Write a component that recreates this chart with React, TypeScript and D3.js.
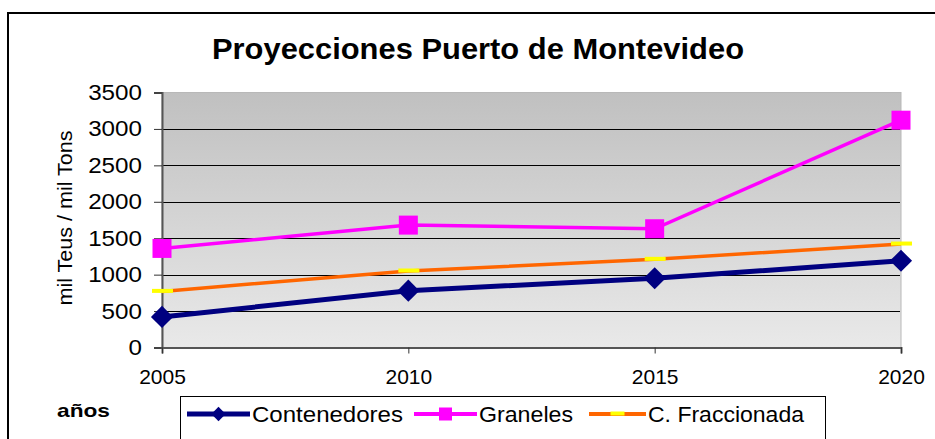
import * as d3 from 'd3';
import React, { useEffect, useRef } from 'react';

// Chart data
const years = ['2005', '2010', '2015', '2020'];
const contenedores = [420, 780, 950, 1190];
const graneles = [1360, 1680, 1630, 3120];
const fraccionada = [770, 1050, 1210, 1420];
const yTicks = [0, 500, 1000, 1500, 2000, 2500, 3000, 3500];
const seriesNames = ['Contenedores', 'Graneles', 'C. Fraccionada'];

const FONT = 'Liberation Sans, Arial, sans-serif';

// the original's lettering is a bit wider than Arial, so stretch it
const stretch = (sel: any, factor: number) => {
  sel.each(function (this: SVGTextElement) {
    const w = this.getComputedTextLength();
    d3.select(this).attr('textLength', w * factor).attr('lengthAdjust', 'spacingAndGlyphs');
  });
};

const App = () => {
  const svgRef = useRef<SVGSVGElement>(null);

  useEffect(() => {
    const width = 935;
    const height = 439;
    const plot = { left: 162, right: 901, top: 92.5, bottom: 347.5 };

    const svg = d3.select(svgRef.current);
    svg.selectAll('*').remove();
    svg.attr('width', width).attr('height', height);

    const xScale = d3.scalePoint<string>().domain(years).range([plot.left, plot.right]);
    const yScale = d3.scaleLinear().domain([0, 3500]).range([plot.bottom, plot.top]);

    // gradient background
    const defs = svg.append('defs');
    const grad = defs.append('linearGradient')
      .attr('id', 'bg').attr('x1', 0).attr('y1', 0).attr('x2', 0).attr('y2', 1);
    grad.append('stop').attr('offset', '0%').attr('stop-color', '#c0c0c0');
    grad.append('stop').attr('offset', '100%').attr('stop-color', '#e9e9e9');

    // outer frame
    svg.append('rect')
      .attr('x', 8).attr('y', 13).attr('width', 940).attr('height', 440)
      .attr('fill', 'white').attr('stroke', 'black').attr('stroke-width', 2);

    svg.append('rect')
      .attr('x', plot.left).attr('y', plot.top)
      .attr('width', plot.right - plot.left).attr('height', plot.bottom - plot.top)
      .attr('fill', 'url(#bg)').attr('stroke', '#b8b8b8').attr('stroke-width', 1);

    // grid
    svg.append('g').selectAll('line')
      .data(yTicks.filter(t => t > 0 && t < 3500))
      .enter().append('line')
      .attr('x1', plot.left).attr('x2', plot.right - 1)
      .attr('y1', d => Math.round(yScale(d)) + 0.5).attr('y2', d => Math.round(yScale(d)) + 0.5)
      .attr('stroke', 'black').attr('stroke-width', 1);

    // y axis
    const yAxis = svg.append('g')
      .attr('transform', `translate(${plot.left},0)`)
      .call(d3.axisLeft(yScale).tickValues(yTicks).tickSize(8).tickPadding(12).tickFormat(d3.format('d')));
    yAxis.select('.domain').attr('stroke', '#555').attr('stroke-width', 2);
    yAxis.selectAll('.tick line').attr('stroke', '#333');
    const yLabels = yAxis.selectAll('text')
      .attr('font-family', FONT).attr('font-size', 22).attr('fill', 'black');
    stretch(yLabels, 1.1);

    // x axis
    const xAxis = svg.append('g')
      .attr('transform', `translate(0,${plot.bottom})`)
      .call(d3.axisBottom(xScale).tickSize(6).tickPadding(16));
    xAxis.select('.domain').attr('stroke', '#555').attr('stroke-width', 2);
    xAxis.selectAll('.tick line').attr('stroke', '#333');
    xAxis.selectAll('text')
      .attr('font-family', FONT).attr('font-size', 21).attr('fill', 'black');

    const line = d3.line<number>()
      .x((d, i) => xScale(years[i]) as number)
      .y(d => yScale(d));

    // Graneles
    svg.append('path').datum(graneles)
      .attr('fill', 'none').attr('stroke', '#ff00ff').attr('stroke-width', 3.5).attr('d', line);
    svg.append('g').selectAll('rect').data(graneles).enter().append('rect')
      .attr('x', (d, i) => (xScale(years[i]) as number) - 9.5)
      .attr('y', d => yScale(d) - 9.5)
      .attr('width', 19).attr('height', 19).attr('fill', '#ff00ff');

    // C. Fraccionada
    svg.append('path').datum(fraccionada)
      .attr('fill', 'none').attr('stroke', '#ff6600').attr('stroke-width', 3.5).attr('d', line);
    svg.append('g').selectAll('rect').data(fraccionada).enter().append('rect')
      .attr('x', (d, i) => (xScale(years[i]) as number) - 10)
      .attr('y', d => yScale(d) - 2.5)
      .attr('width', 21).attr('height', 4).attr('fill', '#ffff00');

    // Contenedores
    svg.append('path').datum(contenedores)
      .attr('fill', 'none').attr('stroke', '#000080').attr('stroke-width', 5).attr('d', line);
    const diamond = d3.symbol().type(d3.symbolDiamond2).size(312);
    svg.append('g').selectAll('path').data(contenedores).enter().append('path')
      .attr('transform', (d, i) => `translate(${xScale(years[i])},${yScale(d)})`)
      .attr('d', diamond).attr('fill', '#000080');

    // title
    svg.append('text')
      .attr('x', 478).attr('y', 59).attr('text-anchor', 'middle')
      .attr('font-family', FONT).attr('font-weight', 'bold').attr('font-size', 29)
      .attr('textLength', 532).attr('lengthAdjust', 'spacingAndGlyphs')
      .text('Proyecciones Puerto de Montevideo');

    // y title
    svg.append('text')
      .attr('transform', 'translate(72,218) rotate(-90)').attr('text-anchor', 'middle')
      .attr('font-family', FONT).attr('font-size', 20)
      .attr('textLength', 175).attr('lengthAdjust', 'spacingAndGlyphs')
      .text('mil Teus / mil Tons');

    // x title
    svg.append('text')
      .attr('x', 57).attr('y', 417)
      .attr('font-family', FONT).attr('font-weight', 'bold').attr('font-size', 19)
      .attr('textLength', 53).attr('lengthAdjust', 'spacingAndGlyphs')
      .text('años');

    // legend
    const legend = svg.append('g');
    legend.append('rect')
      .attr('x', 180.5).attr('y', 396.5).attr('width', 645).attr('height', 60)
      .attr('fill', 'white').attr('stroke', 'black').attr('stroke-width', 1);
    const lineStart = [187, 414, 589];
    const textStart = [252, 479, 648];
    const textWidth = [151, 94, 156];
    const legendColors = ['#000080', '#ff00ff', '#ff6600'];
    const ly = 414;
    seriesNames.forEach((name, i) => {
      const x0 = lineStart[i];
      const x1 = textStart[i] - 2;
      legend.append('line')
        .attr('x1', x0).attr('x2', x1).attr('y1', ly).attr('y2', ly)
        .attr('stroke', legendColors[i]).attr('stroke-width', i === 0 ? 5 : 4);
      const cx = (x0 + x1) / 2;
      if (i === 0) {
        legend.append('path').attr('transform', `translate(${cx},${ly})`)
          .attr('d', d3.symbol().type(d3.symbolDiamond2).size(130)).attr('fill', '#000080');
      } else if (i === 1) {
        legend.append('rect').attr('x', cx - 6.5).attr('y', ly - 6.5)
          .attr('width', 13).attr('height', 13).attr('fill', '#ff00ff');
      } else {
        legend.append('rect').attr('x', cx - 7).attr('y', ly - 2.5)
          .attr('width', 14).attr('height', 4).attr('fill', '#ffff00');
      }
      legend.append('text')
        .attr('x', textStart[i]).attr('y', ly + 8)
        .attr('font-family', FONT).attr('font-size', 22)
        .attr('textLength', textWidth[i]).attr('lengthAdjust', 'spacingAndGlyphs')
        .text(name);
    });
  }, []);

  return <svg ref={svgRef} style={{ position: 'absolute', left: 0, top: 0 }}></svg>;
};

export default App;
